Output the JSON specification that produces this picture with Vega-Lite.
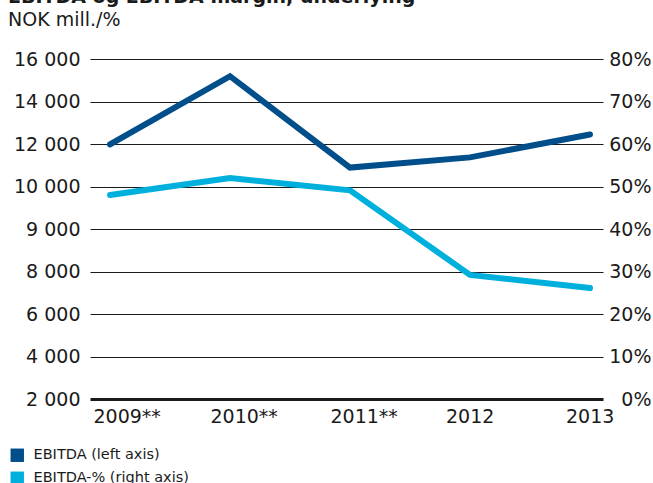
{
  "$schema": "https://vega.github.io/schema/vega-lite/v6.json",
  "width": 513,
  "height": 340,
  "autosize": {"type": "none"},
  "padding": {"left": 90, "top": 59, "right": 50, "bottom": 84},
  "background": "white",
  "config": {"view": {"stroke": null}, "font": "DejaVu Sans"},
  "title": {
    "text": "EBITDA og EBITDA margin, underlying",
    "subtitle": "NOK mill./%",
    "anchor": "start",
    "frame": "group",
    "dx": -82,
    "offset": 20,
    "font": "DejaVu Sans",
    "fontSize": 19,
    "fontWeight": "bold",
    "color": "#1a1a1a",
    "subtitleFont": "DejaVu Sans",
    "subtitleFontSize": 19,
    "subtitleColor": "#1a1a1a",
    "subtitlePadding": 4
  },
  "data": {
    "values": [
      {"year": "2009**", "ebitda": 11980, "pct": 48.0},
      {"year": "2010**", "ebitda": 15190, "pct": 52.0},
      {"year": "2011**", "ebitda": 10890, "pct": 49.1},
      {"year": "2012", "ebitda": 11370, "pct": 29.2},
      {"year": "2013", "ebitda": 12450, "pct": 26.1}
    ]
  },
  "encoding": {
    "x": {
      "field": "year",
      "type": "ordinal",
      "sort": null,
      "scale": {"type": "point", "padding": 0.1375, "align": 0.606},
      "axis": {
        "title": null,
        "domain": false,
        "ticks": false,
        "grid": false,
        "labelAngle": 0,
        "labelAlign": "left",
        "labelBaseline": "top",
        "labelPadding": 8,
        "labelFontSize": 19,
        "labelColor": "#1a1a1a",
        "labelOffset": {
          "condition": [
            {"test": "datum.value == '2009**'", "value": -17},
            {"test": "datum.value == '2012' || datum.value == '2013'", "value": -24.5}
          ],
          "value": -20
        }
      }
    }
  },
  "layer": [
    {
      "mark": {"type": "line", "strokeWidth": 6, "strokeCap": "round", "strokeJoin": "miter"},
      "encoding": {
        "y": {
          "field": "ebitda",
          "type": "quantitative",
          "scale": {
            "domain": [2000, 4000, 6000, 8000, 9000, 10000, 12000, 14000, 16000],
            "range": [340, 297.5, 255, 212.5, 170, 127.5, 85, 42.5, 0],
            "zero": false,
            "nice": false
          },
          "axis": {
            "title": null,
            "orient": "left",
            "values": [2000, 4000, 6000, 8000, 9000, 10000, 12000, 14000, 16000],
            "labelExpr": "replace(format(datum.value, ','), ',', ' ')",
            "domain": false,
            "ticks": false,
            "grid": true,
            "gridColor": "#1a1a1a",
            "gridOpacity": 1,
            "gridWidth": {"condition": {"test": "datum.value == 2000", "value": 3}, "value": 1},
            "labelPadding": 10,
            "labelFontSize": 19,
            "labelColor": "#1a1a1a"
          }
        },
        "color": {
          "datum": "EBITDA (left axis)",
          "type": "nominal",
          "scale": {
            "domain": ["EBITDA (left axis)", "EBITDA-% (right axis)"],
            "range": ["#004e8a", "#00b0dc"]
          },
          "legend": {
            "orient": "none",
            "legendX": -80,
            "legendY": 389,
            "title": null,
            "direction": "vertical",
            "symbolType": "square",
            "symbolSize": 180,
            "symbolStrokeWidth": 0,
            "labelFontSize": 14.5,
            "labelColor": "#1a1a1a",
            "labelOffset": 9,
            "rowPadding": 8,
            "encode": {
              "symbols": {
                "update": {
                  "fill": {"scale": "color", "field": "value"},
                  "strokeWidth": {"value": 0}
                }
              }
            }
          }
        }
      }
    },
    {
      "mark": {"type": "line", "strokeWidth": 6, "strokeCap": "round", "strokeJoin": "miter"},
      "encoding": {
        "y": {
          "field": "pct",
          "type": "quantitative",
          "scale": {"domain": [0, 80], "zero": true, "nice": false},
          "axis": {
            "title": null,
            "orient": "right",
            "values": [0, 10, 20, 30, 40, 50, 60, 70, 80],
            "labelExpr": "datum.value + '%'",
            "domain": false,
            "ticks": false,
            "grid": false,
            "labelAlign": "right",
            "labelPadding": 48,
            "labelFontSize": 19,
            "labelColor": "#1a1a1a"
          }
        },
        "color": {"datum": "EBITDA-% (right axis)", "type": "nominal"}
      }
    }
  ],
  "resolve": {"scale": {"y": "independent"}}
}
